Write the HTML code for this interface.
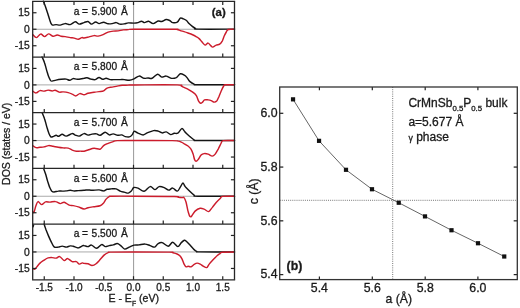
<!DOCTYPE html><html><head><meta charset="utf-8"><style>html,body{margin:0;padding:0;background:#fff;width:520px;height:308px;overflow:hidden;}svg{display:block;will-change:transform}text{font-family:"Liberation Sans",sans-serif;fill:#1a1a1a;stroke:#1a1a1a;stroke-width:0.3px}</style></head><body>
<svg width="520" height="308" viewBox="0 0 520 308">
<rect width="520" height="308" fill="#fff"/>
<line x1="32.7" y1="29.25" x2="234.5" y2="29.25" stroke="#aaa" stroke-width="1"/>
<line x1="133.6" y1="1.4" x2="133.6" y2="57.1" stroke="#999" stroke-width="1"/>
<line x1="32.7" y1="84.90" x2="234.5" y2="84.90" stroke="#aaa" stroke-width="1"/>
<line x1="133.6" y1="57.1" x2="133.6" y2="112.7" stroke="#999" stroke-width="1"/>
<line x1="32.7" y1="140.55" x2="234.5" y2="140.55" stroke="#aaa" stroke-width="1"/>
<line x1="133.6" y1="112.7" x2="133.6" y2="168.4" stroke="#999" stroke-width="1"/>
<line x1="32.7" y1="196.25" x2="234.5" y2="196.25" stroke="#aaa" stroke-width="1"/>
<line x1="133.6" y1="168.4" x2="133.6" y2="224.1" stroke="#999" stroke-width="1"/>
<line x1="32.7" y1="251.95" x2="234.5" y2="251.95" stroke="#aaa" stroke-width="1"/>
<line x1="133.6" y1="224.1" x2="133.6" y2="279.8" stroke="#999" stroke-width="1"/>
<path d="M43.4,1.2C43.8,2.2 44.9,5.0 45.6,7.0C46.3,9.0 46.9,10.9 47.6,13.0C48.3,15.1 49.0,17.8 49.6,19.6C50.2,21.4 50.6,22.7 51.1,23.6C51.6,24.5 51.8,24.9 52.6,25.1C53.4,25.3 54.8,24.6 56.1,24.6C57.4,24.6 58.7,25.3 60.2,25.1C61.7,24.9 63.5,23.7 65.2,23.6C66.9,23.5 68.5,24.9 70.2,24.6C71.9,24.3 73.8,21.9 75.3,21.8C76.8,21.7 77.8,24.0 79.3,24.1C80.8,24.2 82.5,23.0 84.0,22.6C85.5,22.2 86.8,21.2 88.0,21.5C89.2,21.8 90.2,24.0 91.5,24.1C92.8,24.2 94.3,22.1 95.6,22.0C96.9,21.9 97.8,23.6 99.1,23.6C100.4,23.6 102.1,22.2 103.6,22.2C105.1,22.2 106.7,23.6 108.1,23.8C109.5,24.0 110.8,23.8 112.2,23.6C113.6,23.4 115.0,22.5 116.2,22.6C117.5,22.7 118.4,23.9 119.7,24.1C121.0,24.3 122.8,24.1 124.2,23.9C125.6,23.7 126.7,23.0 128.3,22.9C129.9,22.8 132.4,23.2 134.0,23.1C135.6,23.1 136.8,22.9 138.0,22.6C139.2,22.3 140.4,21.2 141.5,21.2C142.6,21.2 143.4,22.6 144.6,22.6C145.8,22.6 147.2,21.0 148.6,21.2C150.0,21.4 151.5,23.6 153.1,23.6C154.7,23.6 156.7,21.4 158.1,21.0C159.5,20.6 160.3,21.8 161.7,21.5C163.0,21.2 164.9,19.7 166.2,19.5C167.5,19.3 168.6,20.0 169.7,20.5C170.8,21.0 171.4,22.3 172.7,22.6C174.0,22.9 176.0,22.9 177.3,22.2C178.6,21.5 179.3,18.8 180.3,18.2C181.3,17.6 182.3,18.4 183.3,18.8C184.3,19.2 185.6,19.7 186.5,20.5C187.4,21.3 188.1,22.7 189.0,23.6C189.9,24.5 191.0,25.4 192.0,26.1C193.0,26.9 194.1,27.6 195.1,28.1C196.1,28.6 191.5,28.9 198.1,29.1C204.7,29.3 228.4,29.1 234.5,29.1" fill="none" stroke="#141414" stroke-width="1.45" stroke-linejoin="round" stroke-linecap="round"/>
<path d="M32.7,34.6C33.3,35.1 35.2,37.7 36.5,37.6C37.8,37.5 39.2,34.3 40.6,34.1C42.0,33.9 43.3,36.6 44.6,36.6C45.9,36.6 47.2,34.0 48.6,33.9C50.0,33.8 51.7,36.1 53.1,36.3C54.5,36.5 55.9,34.9 57.2,34.9C58.6,34.9 59.9,36.0 61.2,36.3C62.5,36.6 63.7,36.4 65.2,36.6C66.7,36.8 68.7,37.4 70.2,37.6C71.7,37.9 73.0,37.8 74.3,38.1C75.6,38.4 77.0,39.3 78.3,39.2C79.5,39.1 80.8,37.8 81.8,37.6C82.8,37.4 82.8,38.1 84.0,38.0C85.2,37.9 87.3,37.3 89.0,36.9C90.7,36.5 92.6,35.7 94.1,35.6C95.6,35.5 96.6,36.3 98.1,36.1C99.6,35.9 101.4,35.3 103.1,34.6C104.8,33.9 106.4,32.7 108.1,32.1C109.8,31.5 111.5,31.3 113.2,31.1C114.9,30.9 116.5,31.1 118.2,30.9C119.9,30.7 121.5,30.1 123.2,29.9C124.9,29.7 126.5,29.7 128.3,29.6C130.1,29.5 126.4,29.4 134.0,29.3C141.7,29.2 167.0,29.3 174.2,29.3C181.4,29.3 176.3,29.3 177.3,29.5C178.3,29.7 179.2,30.2 180.3,30.6C181.4,31.0 182.7,31.2 184.0,31.6C185.3,32.0 186.7,32.5 188.0,33.0C189.3,33.5 190.7,33.9 192.0,34.5C193.3,35.1 194.9,35.9 196.1,36.6C197.3,37.3 198.1,37.7 199.1,38.6C200.1,39.5 201.1,41.0 202.1,42.1C203.1,43.2 204.1,44.9 205.1,45.1C206.1,45.3 207.2,43.0 208.1,43.1C209.0,43.2 209.9,44.9 210.7,45.6C211.5,46.3 211.8,47.2 212.7,47.1C213.6,47.0 215.0,45.6 216.2,45.1C217.4,44.6 218.7,44.8 219.7,44.1C220.7,43.4 221.4,42.5 222.2,41.1C222.9,39.8 223.5,37.5 224.2,36.0C224.9,34.5 225.6,33.1 226.3,32.0C227.0,30.9 226.9,30.0 228.3,29.5C229.7,29.0 233.5,29.2 234.5,29.1" fill="none" stroke="#cc1c2c" stroke-width="1.45" stroke-linejoin="round" stroke-linecap="round"/>
<path d="M42.1,56.9C42.5,57.9 43.9,60.8 44.6,63.0C45.4,65.2 45.9,67.8 46.6,70.1C47.3,72.4 47.9,74.8 48.6,76.6C49.3,78.3 50.0,79.8 50.6,80.6C51.2,81.3 51.2,81.2 52.1,81.1C53.0,81.0 54.6,80.4 56.1,80.1C57.6,79.8 59.5,79.5 61.2,79.3C62.9,79.1 64.8,78.9 66.2,79.1C67.6,79.3 68.5,80.4 69.7,80.3C70.9,80.2 71.9,78.8 73.2,78.6C74.5,78.4 75.5,79.3 77.3,79.3C79.1,79.2 82.4,78.5 84.0,78.3C85.6,78.0 85.8,77.7 87.0,77.8C88.2,77.9 89.7,78.8 91.0,79.1C92.3,79.4 93.8,79.9 95.1,79.6C96.4,79.3 97.8,77.5 99.1,77.5C100.3,77.5 101.4,79.2 102.6,79.3C103.8,79.4 104.8,78.2 106.1,78.2C107.4,78.2 108.7,79.4 110.2,79.6C111.7,79.8 113.5,79.6 115.2,79.6C116.9,79.6 118.7,79.6 120.2,79.6C121.7,79.6 122.7,79.5 124.2,79.6C125.7,79.7 127.7,80.4 129.3,80.3C130.9,80.2 132.4,79.6 134.0,78.9C135.6,78.2 137.3,76.2 139.0,76.1C140.7,76.0 142.6,78.0 144.1,78.3C145.6,78.6 146.8,77.9 148.1,77.9C149.4,77.9 150.5,78.9 152.1,78.3C153.7,77.7 156.0,74.4 157.6,74.2C159.2,74.0 160.3,76.8 161.7,77.1C163.1,77.4 164.6,75.9 166.2,76.1C167.8,76.3 169.5,78.0 171.2,78.3C172.9,78.5 174.8,78.3 176.3,77.6C177.8,76.8 179.0,74.2 180.3,73.8C181.6,73.4 183.2,74.5 184.3,75.1C185.4,75.7 186.1,76.5 187.0,77.6C187.9,78.7 188.8,80.5 190.0,81.6C191.2,82.7 192.8,83.6 194.1,84.1C195.4,84.6 191.4,84.7 198.1,84.8C204.8,84.9 228.4,84.8 234.5,84.8" fill="none" stroke="#141414" stroke-width="1.45" stroke-linejoin="round" stroke-linecap="round"/>
<path d="M32.7,91.1C33.2,91.4 34.8,93.0 36.0,92.9C37.2,92.8 38.6,90.9 40.0,90.6C41.4,90.3 42.8,91.2 44.1,91.1C45.5,91.0 46.8,90.1 48.1,90.1C49.4,90.1 50.9,90.9 52.1,90.9C53.3,90.9 53.9,90.1 55.1,90.3C56.3,90.5 57.9,91.8 59.2,92.1C60.6,92.4 61.7,91.8 63.2,91.9C64.7,92.0 66.7,92.2 68.2,92.6C69.7,93.0 70.9,93.5 72.2,94.1C73.5,94.6 74.5,96.0 75.8,95.9C77.1,95.8 78.4,93.8 79.8,93.6C81.2,93.4 82.6,94.8 84.0,94.8C85.4,94.8 86.3,93.7 88.0,93.3C89.7,92.9 92.2,92.6 94.1,92.3C95.9,92.0 97.5,91.8 99.1,91.6C100.7,91.4 102.3,91.5 103.6,90.9C104.9,90.3 105.7,88.7 107.1,88.1C108.5,87.5 110.5,87.4 112.2,87.1C113.9,86.8 115.5,86.4 117.2,86.1C118.9,85.8 120.3,85.5 122.2,85.3C124.1,85.1 126.3,85.2 128.3,85.1C130.3,85.0 125.8,84.9 134.0,84.9C142.2,84.9 169.4,84.7 177.3,84.9C185.2,85.1 180.2,85.7 181.3,86.1C182.4,86.5 182.7,86.8 184.0,87.4C185.3,88.0 187.3,88.8 189.0,89.8C190.7,90.8 192.8,92.0 194.1,93.1C195.4,94.1 195.8,94.8 196.6,96.1C197.3,97.4 197.9,99.9 198.6,101.1C199.3,102.3 199.9,103.1 200.6,103.3C201.3,103.5 201.9,102.7 202.6,102.1C203.3,101.5 203.7,100.3 204.6,99.9C205.5,99.5 207.0,99.8 208.1,99.9C209.2,100.0 210.2,100.2 211.2,100.6C212.2,101.0 213.3,102.0 214.2,102.1C215.1,102.2 215.9,101.9 216.7,101.1C217.4,100.3 217.9,98.8 218.7,97.1C219.4,95.4 220.4,92.8 221.2,91.0C222.0,89.2 223.0,87.0 223.7,86.0C224.4,85.0 223.4,85.0 225.2,84.8C227.0,84.6 232.9,84.8 234.5,84.8" fill="none" stroke="#cc1c2c" stroke-width="1.45" stroke-linejoin="round" stroke-linecap="round"/>
<path d="M42.1,112.6C42.5,113.7 43.9,116.8 44.6,119.0C45.4,121.2 45.9,123.8 46.6,126.1C47.3,128.4 47.9,130.8 48.6,132.6C49.3,134.3 49.9,135.9 50.6,136.6C51.4,137.3 52.2,136.8 53.1,136.6C54.0,136.4 55.2,135.4 56.1,135.3C57.0,135.2 57.7,136.5 58.7,136.3C59.7,136.1 61.0,134.3 62.2,134.3C63.5,134.3 64.5,136.2 66.2,136.1C67.9,136.0 70.7,133.8 72.2,133.6C73.7,133.4 74.1,134.7 75.3,135.1C76.5,135.5 77.8,136.3 79.3,136.1C80.8,135.8 82.5,133.8 84.0,133.6C85.5,133.4 86.7,135.0 88.0,135.1C89.3,135.2 90.6,134.3 92.0,134.1C93.4,133.9 95.2,133.7 96.6,133.9C97.9,134.1 98.7,135.6 100.1,135.3C101.5,135.0 103.6,132.3 105.1,132.2C106.6,132.1 107.8,134.6 109.2,134.9C110.6,135.2 111.8,133.8 113.2,133.9C114.6,134.0 116.3,135.1 117.7,135.3C119.1,135.5 120.5,134.7 121.7,134.9C123.0,135.1 123.9,136.3 125.2,136.6C126.5,136.9 128.1,137.2 129.3,136.9C130.5,136.6 131.5,135.6 132.3,134.6C133.1,133.6 133.4,131.4 134.3,131.2C135.2,130.9 136.5,132.5 138.0,133.1C139.5,133.7 141.6,134.9 143.1,134.9C144.6,134.9 145.3,133.6 147.1,132.9C148.8,132.2 151.8,130.9 153.6,130.6C155.4,130.3 156.7,130.7 158.1,131.1C159.5,131.5 160.8,132.8 162.2,132.9C163.5,133.0 164.8,131.6 166.2,131.9C167.6,132.2 169.4,134.4 170.7,134.6C172.0,134.8 173.0,133.6 174.2,133.3C175.4,133.1 176.5,133.9 177.8,133.1C179.1,132.3 180.7,128.9 181.8,128.6C182.9,128.3 183.6,130.3 184.3,131.1C185.0,131.8 185.1,132.2 186.0,133.1C186.9,134.0 188.7,135.5 190.0,136.6C191.3,137.7 192.8,139.2 194.1,139.9C195.4,140.6 191.4,140.4 198.1,140.5C204.8,140.6 228.4,140.5 234.5,140.5" fill="none" stroke="#141414" stroke-width="1.45" stroke-linejoin="round" stroke-linecap="round"/>
<path d="M32.7,145.6C33.2,145.9 34.8,147.3 36.0,147.6C37.2,147.9 38.6,147.4 40.0,147.3C41.4,147.2 42.7,147.2 44.1,146.9C45.5,146.6 47.1,145.7 48.6,145.6C50.1,145.5 51.5,146.0 53.1,146.3C54.7,146.6 56.5,147.0 58.2,147.3C59.9,147.6 61.5,147.8 63.2,147.9C64.9,148.0 66.7,147.7 68.2,148.1C69.7,148.5 70.9,149.6 72.2,150.1C73.5,150.6 75.0,151.1 76.3,151.3C77.6,151.5 79.0,151.1 80.3,151.1C81.6,151.1 82.7,151.4 84.0,151.2C85.3,151.0 86.3,150.5 88.0,150.0C89.7,149.5 92.1,148.4 94.1,148.3C96.1,148.2 98.5,149.6 100.1,149.2C101.7,148.8 102.3,146.6 103.6,145.6C104.9,144.6 106.5,144.0 108.1,143.3C109.7,142.6 111.7,142.1 113.2,141.6C114.7,141.1 113.7,140.8 117.2,140.6C120.7,140.4 124.8,140.5 134.0,140.5C143.2,140.5 164.8,140.5 172.2,140.6C179.6,140.7 176.8,140.8 178.3,141.1C179.8,141.3 180.4,141.7 181.3,142.1C182.2,142.5 182.9,142.9 184.0,143.6C185.1,144.2 186.8,145.1 188.0,146.0C189.2,146.9 190.2,147.8 191.0,149.1C191.8,150.4 192.5,152.3 193.1,154.1C193.7,155.8 194.1,158.4 194.6,159.6C195.1,160.8 195.5,161.3 196.1,161.3C196.7,161.3 197.3,160.6 198.1,159.6C198.9,158.6 200.1,156.1 201.1,155.1C202.1,154.1 202.9,153.8 204.1,153.6C205.3,153.4 206.8,153.7 208.1,154.1C209.4,154.5 211.0,156.1 212.2,156.1C213.4,156.1 214.2,155.3 215.2,154.1C216.2,152.9 217.2,150.9 218.2,149.1C219.2,147.2 220.4,144.4 221.2,143.0C222.0,141.6 221.0,141.0 223.2,140.6C225.4,140.2 232.6,140.5 234.5,140.5" fill="none" stroke="#cc1c2c" stroke-width="1.45" stroke-linejoin="round" stroke-linecap="round"/>
<path d="M43.6,168.4C43.9,169.3 44.9,171.9 45.6,174.0C46.3,176.1 46.9,178.9 47.6,181.1C48.3,183.3 48.9,185.5 49.6,187.1C50.3,188.7 50.9,190.1 51.6,190.9C52.4,191.7 53.0,192.0 54.1,192.0C55.2,192.0 56.9,191.2 58.2,191.1C59.6,190.9 60.9,191.1 62.2,191.1C63.5,191.1 64.9,191.0 66.2,190.9C67.5,190.8 68.9,190.3 70.2,190.3C71.5,190.3 73.0,190.9 74.3,190.9C75.6,190.9 76.7,190.7 78.3,190.6C79.9,190.5 82.4,190.4 84.0,190.3C85.6,190.2 86.7,189.9 88.0,189.9C89.3,189.9 90.2,190.3 92.0,190.3C93.8,190.3 97.2,189.8 99.1,189.9C101.0,190.0 102.3,191.0 103.6,190.9C104.9,190.8 105.8,189.6 107.1,189.3C108.4,189.0 109.7,189.0 111.2,188.9C112.7,188.8 114.7,188.5 116.2,188.9C117.7,189.3 118.9,190.6 120.2,191.1C121.5,191.6 122.8,191.8 124.2,192.1C125.6,192.4 127.1,193.3 128.3,193.1C129.5,192.9 130.4,192.0 131.3,191.1C132.2,190.2 132.7,188.0 133.8,187.5C134.9,187.0 136.3,187.5 138.0,188.1C139.7,188.7 142.1,191.6 144.1,191.3C146.1,191.1 148.3,186.9 150.1,186.6C151.9,186.3 153.6,189.6 155.1,189.6C156.6,189.6 157.7,186.9 159.2,186.6C160.7,186.3 162.6,187.0 164.2,187.6C165.8,188.2 167.3,190.0 168.7,190.1C170.1,190.2 171.3,187.9 172.7,188.1C174.1,188.3 176.0,191.3 177.3,191.1C178.6,190.9 179.4,188.4 180.3,187.1C181.2,185.8 182.1,183.4 182.8,183.1C183.5,182.8 184.0,184.8 184.5,185.5C185.0,186.2 185.1,186.5 186.0,187.5C186.9,188.5 188.7,190.3 190.0,191.6C191.3,192.9 192.8,194.3 194.1,195.1C195.4,195.9 191.4,196.0 198.1,196.2C204.8,196.4 228.4,196.2 234.5,196.2" fill="none" stroke="#141414" stroke-width="1.45" stroke-linejoin="round" stroke-linecap="round"/>
<path d="M32.7,211.7C32.9,211.8 33.5,213.2 34.0,212.2C34.5,211.2 35.3,207.4 36.0,205.6C36.7,203.8 37.1,201.8 38.0,201.6C38.9,201.4 40.3,204.5 41.6,204.6C42.9,204.7 44.2,202.3 45.6,201.9C47.0,201.5 48.4,202.2 50.1,202.1C51.8,202.0 53.9,201.3 55.6,201.6C57.3,201.8 58.8,203.5 60.2,203.6C61.6,203.7 62.7,202.1 64.2,202.3C65.7,202.6 67.7,204.6 69.2,205.1C70.7,205.6 71.7,205.3 73.2,205.6C74.7,205.9 76.5,206.3 78.3,206.9C80.1,207.5 82.4,208.9 84.0,209.0C85.6,209.1 86.3,208.1 88.0,207.7C89.7,207.3 92.1,207.0 94.1,206.7C96.1,206.4 98.6,206.2 100.1,205.7C101.6,205.2 102.1,204.7 103.1,203.6C104.1,202.5 105.1,200.3 106.1,199.1C107.1,197.9 108.2,197.1 109.2,196.6C110.2,196.1 107.9,196.3 112.0,196.2C116.1,196.1 123.6,196.1 134.0,196.2C144.4,196.2 166.8,196.3 174.2,196.5C181.6,196.7 177.0,197.1 178.3,197.3C179.7,197.5 181.4,197.6 182.3,197.6C183.2,197.6 183.4,196.9 184.0,197.6C184.6,198.3 185.3,199.8 186.0,202.0C186.7,204.2 187.3,208.7 188.0,211.1C188.7,213.5 189.3,215.8 190.0,216.6C190.7,217.3 191.2,216.5 192.0,215.6C192.8,214.7 193.8,212.3 195.1,211.1C196.4,209.9 198.6,208.6 200.1,208.3C201.6,208.0 202.7,208.6 204.1,209.1C205.5,209.6 207.2,211.8 208.6,211.6C209.9,211.3 210.9,209.1 212.2,207.6C213.5,206.1 214.9,204.0 216.2,202.5C217.5,201.0 219.1,199.5 220.2,198.5C221.3,197.5 220.3,196.8 222.7,196.4C225.1,196.0 232.5,196.2 234.5,196.2" fill="none" stroke="#cc1c2c" stroke-width="1.45" stroke-linejoin="round" stroke-linecap="round"/>
<path d="M44.1,224.1C44.4,225.1 45.4,228.0 46.1,230.0C46.9,232.0 47.8,234.2 48.6,236.1C49.4,238.0 50.2,239.8 51.1,241.6C52.0,243.4 52.9,246.0 54.1,246.9C55.3,247.8 56.9,247.2 58.2,247.1C59.6,247.0 60.9,246.1 62.2,246.1C63.5,246.1 64.9,247.1 66.2,247.1C67.5,247.1 69.0,246.0 70.2,245.9C71.4,245.8 71.9,246.0 73.2,246.3C74.5,246.6 76.8,248.0 78.3,247.9C79.8,247.8 81.3,246.3 82.3,245.9C83.2,245.5 83.0,245.5 84.0,245.6C85.0,245.7 86.8,246.7 88.0,246.6C89.2,246.5 90.1,244.8 91.5,245.1C92.9,245.4 94.9,248.4 96.6,248.3C98.3,248.2 100.2,244.9 101.6,244.6C103.0,244.3 103.8,246.4 105.1,246.6C106.4,246.8 107.8,245.9 109.2,245.6C110.6,245.3 111.9,245.2 113.2,244.9C114.5,244.6 116.0,243.4 117.2,243.5C118.5,243.6 119.5,244.7 120.7,245.6C122.0,246.5 123.3,248.8 124.7,249.1C126.1,249.3 127.8,247.8 129.3,247.1C130.9,246.4 132.4,245.5 134.0,245.1C135.6,244.7 137.2,245.1 139.0,244.9C140.8,244.7 143.2,244.0 145.1,244.1C146.9,244.2 148.5,245.1 150.1,245.6C151.7,246.1 153.3,247.4 154.6,247.1C155.9,246.8 156.8,244.3 158.1,243.6C159.4,242.8 160.5,242.1 162.2,242.6C163.9,243.1 166.4,246.4 168.2,246.3C169.9,246.2 171.1,242.2 172.7,242.3C174.3,242.4 176.4,246.6 177.8,246.6C179.2,246.6 180.2,243.6 181.3,242.6C182.4,241.6 183.5,240.6 184.3,240.3C185.1,240.0 185.1,240.2 186.0,241.0C186.9,241.8 188.7,243.7 190.0,245.1C191.3,246.5 192.9,248.5 194.1,249.6C195.3,250.7 196.1,251.2 197.1,251.6C198.1,252.0 193.8,251.8 200.0,251.9C206.2,252.0 228.8,251.9 234.5,251.9" fill="none" stroke="#141414" stroke-width="1.45" stroke-linejoin="round" stroke-linecap="round"/>
<path d="M32.7,268.6C33.1,268.7 34.3,269.4 35.0,269.1C35.7,268.8 36.2,267.6 37.0,266.6C37.8,265.6 38.8,264.2 40.0,263.1C41.2,262.0 42.8,261.0 44.1,260.1C45.5,259.2 46.8,258.3 48.1,257.9C49.4,257.5 50.8,257.6 52.1,257.6C53.4,257.6 54.8,258.3 56.1,258.1C57.4,257.9 58.4,256.2 59.7,256.6C61.1,257.0 62.9,260.3 64.2,260.6C65.5,260.9 66.4,258.4 67.7,258.6C69.0,258.8 70.8,261.1 72.2,261.6C73.6,262.1 75.1,261.2 76.3,261.6C77.5,262.0 78.3,263.9 79.3,264.1C80.3,264.3 81.5,263.0 82.3,262.9C83.1,262.8 83.0,263.3 84.0,263.4C85.0,263.5 86.7,263.4 88.0,263.7C89.3,264.0 90.7,265.4 92.0,265.4C93.3,265.4 94.8,264.7 96.1,263.7C97.4,262.7 98.8,261.0 100.1,259.6C101.4,258.2 102.8,256.3 104.1,255.1C105.4,253.9 106.9,253.1 108.1,252.6C109.3,252.1 106.9,252.2 111.2,252.1C115.5,252.0 124.3,251.9 134.0,251.9C143.7,251.9 162.7,251.9 169.2,252.1C175.7,252.2 171.7,252.5 173.0,252.8C174.3,253.1 175.9,253.5 177.1,254.0C178.3,254.5 179.3,255.2 180.1,256.0C180.9,256.9 181.4,257.8 182.1,259.1C182.8,260.5 183.4,262.8 184.1,264.1C184.8,265.4 185.4,266.4 186.1,266.8C186.8,267.2 187.3,266.3 188.1,266.3C188.9,266.3 190.1,267.1 191.1,266.8C192.1,266.5 193.2,264.9 194.2,264.3C195.2,263.7 196.2,263.1 197.2,263.1C198.2,263.1 199.2,263.6 200.2,264.1C201.2,264.6 202.1,265.5 203.2,266.1C204.3,266.7 205.7,267.9 206.7,267.6C207.7,267.3 208.1,265.4 209.2,264.1C210.3,262.8 212.0,261.0 213.3,259.6C214.7,258.2 216.2,256.5 217.3,255.5C218.4,254.5 219.2,254.2 220.0,253.6C220.8,253.0 219.8,252.5 222.2,252.2C224.6,251.9 232.4,251.9 234.5,251.9" fill="none" stroke="#cc1c2c" stroke-width="1.45" stroke-linejoin="round" stroke-linecap="round"/>
<path d="M32.8,227.2 L33.6,224.6" stroke="#111" stroke-width="1.6" fill="none"/>
<line x1="32.7" y1="12.75" x2="36.50" y2="12.75" stroke="#222" stroke-width="1.2"/>
<line x1="234.5" y1="12.75" x2="230.90" y2="12.75" stroke="#222" stroke-width="1.2"/>
<text x="29.7" y="16.35" font-size="10.3" text-anchor="end">15</text>
<line x1="32.7" y1="29.25" x2="36.50" y2="29.25" stroke="#222" stroke-width="1.2"/>
<text x="29.7" y="32.85" font-size="10.3" text-anchor="end">0</text>
<line x1="32.7" y1="45.75" x2="36.50" y2="45.75" stroke="#222" stroke-width="1.2"/>
<line x1="234.5" y1="45.75" x2="230.90" y2="45.75" stroke="#222" stroke-width="1.2"/>
<text x="29.7" y="49.35" font-size="10.3" text-anchor="end">-15</text>
<line x1="44.25" y1="57.1" x2="44.25" y2="53.50" stroke="#222" stroke-width="1.2"/>
<line x1="74.00" y1="57.1" x2="74.00" y2="53.50" stroke="#222" stroke-width="1.2"/>
<line x1="103.75" y1="57.1" x2="103.75" y2="53.50" stroke="#222" stroke-width="1.2"/>
<line x1="133.50" y1="57.1" x2="133.50" y2="53.50" stroke="#222" stroke-width="1.2"/>
<line x1="163.25" y1="57.1" x2="163.25" y2="53.50" stroke="#222" stroke-width="1.2"/>
<line x1="193.00" y1="57.1" x2="193.00" y2="53.50" stroke="#222" stroke-width="1.2"/>
<line x1="222.75" y1="57.1" x2="222.75" y2="53.50" stroke="#222" stroke-width="1.2"/>
<text y="14.50" font-size="10.2"><tspan x="73.7">a</tspan><tspan x="82.0">=</tspan><tspan x="91.6">5.900</tspan><tspan x="120.9">Å</tspan></text>
<line x1="32.7" y1="68.40" x2="36.50" y2="68.40" stroke="#222" stroke-width="1.2"/>
<line x1="234.5" y1="68.40" x2="230.90" y2="68.40" stroke="#222" stroke-width="1.2"/>
<text x="29.7" y="72.00" font-size="10.3" text-anchor="end">15</text>
<line x1="32.7" y1="84.90" x2="36.50" y2="84.90" stroke="#222" stroke-width="1.2"/>
<text x="29.7" y="88.50" font-size="10.3" text-anchor="end">0</text>
<line x1="32.7" y1="101.40" x2="36.50" y2="101.40" stroke="#222" stroke-width="1.2"/>
<line x1="234.5" y1="101.40" x2="230.90" y2="101.40" stroke="#222" stroke-width="1.2"/>
<text x="29.7" y="105.00" font-size="10.3" text-anchor="end">-15</text>
<line x1="44.25" y1="112.7" x2="44.25" y2="109.10" stroke="#222" stroke-width="1.2"/>
<line x1="74.00" y1="112.7" x2="74.00" y2="109.10" stroke="#222" stroke-width="1.2"/>
<line x1="103.75" y1="112.7" x2="103.75" y2="109.10" stroke="#222" stroke-width="1.2"/>
<line x1="133.50" y1="112.7" x2="133.50" y2="109.10" stroke="#222" stroke-width="1.2"/>
<line x1="163.25" y1="112.7" x2="163.25" y2="109.10" stroke="#222" stroke-width="1.2"/>
<line x1="193.00" y1="112.7" x2="193.00" y2="109.10" stroke="#222" stroke-width="1.2"/>
<line x1="222.75" y1="112.7" x2="222.75" y2="109.10" stroke="#222" stroke-width="1.2"/>
<text y="70.20" font-size="10.2"><tspan x="73.7">a</tspan><tspan x="82.0">=</tspan><tspan x="91.6">5.800</tspan><tspan x="120.9">Å</tspan></text>
<line x1="32.7" y1="124.05" x2="36.50" y2="124.05" stroke="#222" stroke-width="1.2"/>
<line x1="234.5" y1="124.05" x2="230.90" y2="124.05" stroke="#222" stroke-width="1.2"/>
<text x="29.7" y="127.65" font-size="10.3" text-anchor="end">15</text>
<line x1="32.7" y1="140.55" x2="36.50" y2="140.55" stroke="#222" stroke-width="1.2"/>
<text x="29.7" y="144.15" font-size="10.3" text-anchor="end">0</text>
<line x1="32.7" y1="157.05" x2="36.50" y2="157.05" stroke="#222" stroke-width="1.2"/>
<line x1="234.5" y1="157.05" x2="230.90" y2="157.05" stroke="#222" stroke-width="1.2"/>
<text x="29.7" y="160.65" font-size="10.3" text-anchor="end">-15</text>
<line x1="44.25" y1="168.4" x2="44.25" y2="164.80" stroke="#222" stroke-width="1.2"/>
<line x1="74.00" y1="168.4" x2="74.00" y2="164.80" stroke="#222" stroke-width="1.2"/>
<line x1="103.75" y1="168.4" x2="103.75" y2="164.80" stroke="#222" stroke-width="1.2"/>
<line x1="133.50" y1="168.4" x2="133.50" y2="164.80" stroke="#222" stroke-width="1.2"/>
<line x1="163.25" y1="168.4" x2="163.25" y2="164.80" stroke="#222" stroke-width="1.2"/>
<line x1="193.00" y1="168.4" x2="193.00" y2="164.80" stroke="#222" stroke-width="1.2"/>
<line x1="222.75" y1="168.4" x2="222.75" y2="164.80" stroke="#222" stroke-width="1.2"/>
<text y="125.80" font-size="10.2"><tspan x="73.7">a</tspan><tspan x="82.0">=</tspan><tspan x="91.6">5.700</tspan><tspan x="120.9">Å</tspan></text>
<line x1="32.7" y1="179.75" x2="36.50" y2="179.75" stroke="#222" stroke-width="1.2"/>
<line x1="234.5" y1="179.75" x2="230.90" y2="179.75" stroke="#222" stroke-width="1.2"/>
<text x="29.7" y="183.35" font-size="10.3" text-anchor="end">15</text>
<line x1="32.7" y1="196.25" x2="36.50" y2="196.25" stroke="#222" stroke-width="1.2"/>
<text x="29.7" y="199.85" font-size="10.3" text-anchor="end">0</text>
<line x1="32.7" y1="212.75" x2="36.50" y2="212.75" stroke="#222" stroke-width="1.2"/>
<line x1="234.5" y1="212.75" x2="230.90" y2="212.75" stroke="#222" stroke-width="1.2"/>
<text x="29.7" y="216.35" font-size="10.3" text-anchor="end">-15</text>
<line x1="44.25" y1="224.1" x2="44.25" y2="220.50" stroke="#222" stroke-width="1.2"/>
<line x1="74.00" y1="224.1" x2="74.00" y2="220.50" stroke="#222" stroke-width="1.2"/>
<line x1="103.75" y1="224.1" x2="103.75" y2="220.50" stroke="#222" stroke-width="1.2"/>
<line x1="133.50" y1="224.1" x2="133.50" y2="220.50" stroke="#222" stroke-width="1.2"/>
<line x1="163.25" y1="224.1" x2="163.25" y2="220.50" stroke="#222" stroke-width="1.2"/>
<line x1="193.00" y1="224.1" x2="193.00" y2="220.50" stroke="#222" stroke-width="1.2"/>
<line x1="222.75" y1="224.1" x2="222.75" y2="220.50" stroke="#222" stroke-width="1.2"/>
<text y="181.50" font-size="10.2"><tspan x="73.7">a</tspan><tspan x="82.0">=</tspan><tspan x="91.6">5.600</tspan><tspan x="120.9">Å</tspan></text>
<line x1="32.7" y1="235.45" x2="36.50" y2="235.45" stroke="#222" stroke-width="1.2"/>
<line x1="234.5" y1="235.45" x2="230.90" y2="235.45" stroke="#222" stroke-width="1.2"/>
<text x="29.7" y="239.05" font-size="10.3" text-anchor="end">15</text>
<line x1="32.7" y1="251.95" x2="36.50" y2="251.95" stroke="#222" stroke-width="1.2"/>
<text x="29.7" y="255.55" font-size="10.3" text-anchor="end">0</text>
<line x1="32.7" y1="268.45" x2="36.50" y2="268.45" stroke="#222" stroke-width="1.2"/>
<line x1="234.5" y1="268.45" x2="230.90" y2="268.45" stroke="#222" stroke-width="1.2"/>
<text x="29.7" y="272.05" font-size="10.3" text-anchor="end">-15</text>
<line x1="44.25" y1="279.8" x2="44.25" y2="276.20" stroke="#222" stroke-width="1.2"/>
<line x1="74.00" y1="279.8" x2="74.00" y2="276.20" stroke="#222" stroke-width="1.2"/>
<line x1="103.75" y1="279.8" x2="103.75" y2="276.20" stroke="#222" stroke-width="1.2"/>
<line x1="133.50" y1="279.8" x2="133.50" y2="276.20" stroke="#222" stroke-width="1.2"/>
<line x1="163.25" y1="279.8" x2="163.25" y2="276.20" stroke="#222" stroke-width="1.2"/>
<line x1="193.00" y1="279.8" x2="193.00" y2="276.20" stroke="#222" stroke-width="1.2"/>
<line x1="222.75" y1="279.8" x2="222.75" y2="276.20" stroke="#222" stroke-width="1.2"/>
<text y="237.20" font-size="10.2"><tspan x="73.7">a</tspan><tspan x="82.0">=</tspan><tspan x="91.6">5.500</tspan><tspan x="120.9">Å</tspan></text>
<line x1="44.25" y1="1.4" x2="44.25" y2="5.00" stroke="#222" stroke-width="1.2"/>
<line x1="74.00" y1="1.4" x2="74.00" y2="5.00" stroke="#222" stroke-width="1.2"/>
<line x1="103.75" y1="1.4" x2="103.75" y2="5.00" stroke="#222" stroke-width="1.2"/>
<line x1="133.50" y1="1.4" x2="133.50" y2="5.00" stroke="#222" stroke-width="1.2"/>
<line x1="163.25" y1="1.4" x2="163.25" y2="5.00" stroke="#222" stroke-width="1.2"/>
<line x1="193.00" y1="1.4" x2="193.00" y2="5.00" stroke="#222" stroke-width="1.2"/>
<line x1="222.75" y1="1.4" x2="222.75" y2="5.00" stroke="#222" stroke-width="1.2"/>
<line x1="32.050000000000004" y1="1.4" x2="235.15" y2="1.4" stroke="#262626" stroke-width="1.3"/>
<line x1="32.050000000000004" y1="57.1" x2="235.15" y2="57.1" stroke="#262626" stroke-width="1.3"/>
<line x1="32.050000000000004" y1="112.7" x2="235.15" y2="112.7" stroke="#262626" stroke-width="1.3"/>
<line x1="32.050000000000004" y1="168.4" x2="235.15" y2="168.4" stroke="#262626" stroke-width="1.3"/>
<line x1="32.050000000000004" y1="224.1" x2="235.15" y2="224.1" stroke="#262626" stroke-width="1.3"/>
<line x1="32.050000000000004" y1="279.8" x2="235.15" y2="279.8" stroke="#262626" stroke-width="1.3"/>
<line x1="32.7" y1="1.4" x2="32.7" y2="279.8" stroke="#262626" stroke-width="1.3"/>
<line x1="234.5" y1="1.4" x2="234.5" y2="279.8" stroke="#262626" stroke-width="1.3"/>
<text x="44.25" y="290.6" font-size="10" text-anchor="middle">-1.5</text>
<text x="74.00" y="290.6" font-size="10" text-anchor="middle">-1.0</text>
<text x="103.75" y="290.6" font-size="10" text-anchor="middle">-0.5</text>
<text x="133.50" y="290.6" font-size="10" text-anchor="middle">0.0</text>
<text x="163.25" y="290.6" font-size="10" text-anchor="middle">0.5</text>
<text x="193.00" y="290.6" font-size="10" text-anchor="middle">1.0</text>
<text x="222.75" y="290.6" font-size="10" text-anchor="middle">1.5</text>
<text x="108.4" y="301.8" font-size="10.6">E - E<tspan font-size="6.8" dy="3.8">F</tspan><tspan dy="-3.8"> (eV)</tspan></text>
<text transform="translate(10.2,143.8) rotate(-90)" font-size="10.5" text-anchor="middle">DOS (states / eV)</text>
<text x="211.8" y="15.9" font-size="11.4" font-weight="bold">(a)</text>
<line x1="392.7" y1="87.0" x2="392.7" y2="279.6" stroke="#777" stroke-width="1" stroke-dasharray="1,1.2"/>
<line x1="279.7" y1="200.3" x2="517.3" y2="200.3" stroke="#777" stroke-width="1" stroke-dasharray="1,1.1"/>
<polyline points="293.05,99.35 319.05,140.85 346.00,169.80 372.00,189.25 398.75,202.75 425.00,216.40 451.50,230.25 478.00,243.25 504.25,256.50" fill="none" stroke="#666" stroke-width="1"/>
<rect x="290.95" y="97.25" width="4.2" height="4.2" fill="#111"/>
<rect x="316.95" y="138.75" width="4.2" height="4.2" fill="#111"/>
<rect x="343.90" y="167.70" width="4.2" height="4.2" fill="#111"/>
<rect x="369.90" y="187.15" width="4.2" height="4.2" fill="#111"/>
<rect x="396.65" y="200.65" width="4.2" height="4.2" fill="#111"/>
<rect x="422.90" y="214.30" width="4.2" height="4.2" fill="#111"/>
<rect x="449.40" y="228.15" width="4.2" height="4.2" fill="#111"/>
<rect x="475.90" y="241.15" width="4.2" height="4.2" fill="#111"/>
<rect x="502.15" y="254.40" width="4.2" height="4.2" fill="#111"/>
<line x1="279.7" y1="113.3" x2="283.3" y2="113.3" stroke="#222" stroke-width="1.25"/>
<line x1="517.3" y1="113.3" x2="513.6999999999999" y2="113.3" stroke="#222" stroke-width="1.25"/>
<text x="277.6" y="117.10" font-size="12.3" text-anchor="end">6.0</text>
<line x1="279.7" y1="167.07" x2="283.3" y2="167.07" stroke="#222" stroke-width="1.25"/>
<line x1="517.3" y1="167.07" x2="513.6999999999999" y2="167.07" stroke="#222" stroke-width="1.25"/>
<text x="277.6" y="170.87" font-size="12.3" text-anchor="end">5.8</text>
<line x1="279.7" y1="220.83" x2="283.3" y2="220.83" stroke="#222" stroke-width="1.25"/>
<line x1="517.3" y1="220.83" x2="513.6999999999999" y2="220.83" stroke="#222" stroke-width="1.25"/>
<text x="277.6" y="224.63" font-size="12.3" text-anchor="end">5.6</text>
<line x1="279.7" y1="274.6" x2="283.3" y2="274.6" stroke="#222" stroke-width="1.25"/>
<line x1="517.3" y1="274.6" x2="513.6999999999999" y2="274.6" stroke="#222" stroke-width="1.25"/>
<text x="277.6" y="278.40" font-size="12.3" text-anchor="end">5.4</text>
<line x1="319.4" y1="279.6" x2="319.4" y2="276.40000000000003" stroke="#222" stroke-width="1.2"/>
<line x1="319.4" y1="87.0" x2="319.4" y2="90.2" stroke="#222" stroke-width="1.2"/>
<text x="319.4" y="291.8" font-size="12.3" text-anchor="middle">5.4</text>
<line x1="372.3" y1="279.6" x2="372.3" y2="276.40000000000003" stroke="#222" stroke-width="1.2"/>
<line x1="372.3" y1="87.0" x2="372.3" y2="90.2" stroke="#222" stroke-width="1.2"/>
<text x="372.3" y="291.8" font-size="12.3" text-anchor="middle">5.6</text>
<line x1="425.2" y1="279.6" x2="425.2" y2="276.40000000000003" stroke="#222" stroke-width="1.2"/>
<line x1="425.2" y1="87.0" x2="425.2" y2="90.2" stroke="#222" stroke-width="1.2"/>
<text x="425.2" y="291.8" font-size="12.3" text-anchor="middle">5.8</text>
<line x1="477.9" y1="279.6" x2="477.9" y2="276.40000000000003" stroke="#222" stroke-width="1.2"/>
<line x1="477.9" y1="87.0" x2="477.9" y2="90.2" stroke="#222" stroke-width="1.2"/>
<text x="477.9" y="291.8" font-size="12.3" text-anchor="middle">6.0</text>
<rect x="279.7" y="87.0" width="237.60" height="192.60" fill="none" stroke="#333" stroke-width="1.3"/>
<text x="385.6" y="303.1" font-size="12.2">a (Å)</text>
<text transform="translate(258,191.3) rotate(-90)" font-size="12.2" text-anchor="middle">c (Å)</text>
<text x="286.6" y="269.6" font-size="12.3" font-weight="bold">(b)</text>
<text x="408.4" y="106.8" font-size="12">CrMnSb<tspan font-size="7.8" dy="4.4">0.5</tspan><tspan dy="-4.4">P</tspan><tspan font-size="7.8" dy="4.4">0.5</tspan><tspan dy="-4.4"> bulk</tspan></text>
<text x="408.4" y="125.8" font-size="12">a=5.677 Å</text>
<text x="408.4" y="140.5" font-size="12"><tspan font-size="8.8">γ</tspan> phase</text>
</svg></body></html>
